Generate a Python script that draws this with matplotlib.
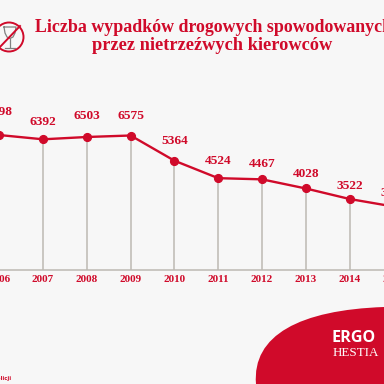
import matplotlib
matplotlib.use("Agg")
import matplotlib.pyplot as plt
from matplotlib.patches import Circle, PathPatch
from matplotlib.path import Path

years = [2006, 2007, 2008, 2009, 2010, 2011, 2012, 2013, 2014, 2015]
values = [6598, 6392, 6503, 6575, 5364, 4524, 4467, 4028, 3522, 3160]
year_labels = ["2006", "2007", "2008", "2009", "2010", "2011", "2012", "2013", "2014", "2015"]
title_lines = ["Liczba wypadków drogowych spowodowanych", "przez nietrzeźwych kierowców"]

# label gap above each point, in px
label_gap = [23, 17, 21, 19.5, 19.7, 17, 15, 14.5, 13, 13.5]

RED = "#d00a2a"
BG = "#f7f7f7"
GREY = "#bdb9b3"
GLASS = "#808080"
SERIF = "Liberation Serif"

fig = plt.figure(figsize=(3.84, 3.84), dpi=100, facecolor=BG)

# pixel overlay for title, icon and logo
bg = fig.add_axes([0, 0, 1, 1])
bg.set_xlim(0, 384)
bg.set_ylim(384, 0)
bg.axis("off")

# chart axes: year 2007 sits at x=43 px, one year is 43.8 px
ax = fig.add_axes([0, 0, 1, 1], facecolor="none")
ax.set_xlim(2007 - 43 / 43.8, 2007 + (384 - 43) / 43.8)
# 6575 -> 135.5 px, 3522 -> 199 px
per_px = (6575 - 3522) / 63.5
ymin = 6575 - (384 - 135.5) * per_px
ax.set_ylim(ymin, 6575 + 135.5 * per_px)
ax.axis("off")

base = ymin + (384 - 270) * per_px
ax.axhline(base, color=GREY, lw=1.1, zorder=1)
ax.vlines(years, base, values, color=GREY, lw=1.1, zorder=1)
ax.plot(years, values, color=RED, lw=1.7, marker="o", ms=5.6, zorder=3)

for x, v, gap in zip(years, values, label_gap):
    ax.annotate(str(v), (x, v), xytext=(0, gap * 0.72), textcoords="offset points", ha="center", va="center",
                color=RED, fontsize=9.6, fontweight="bold", family=SERIF, annotation_clip=False)
for x, lab in zip(years, year_labels):
    ax.text(x, ymin + (384 - 280) * per_px, lab, ha="center", va="center",
            color=RED, fontsize=8, fontweight="bold", family=SERIF)

bg.text(35, 28, title_lines[0], ha="left", va="center", color=RED, fontsize=12.9, fontweight="bold", family=SERIF)
bg.text(212, 46, title_lines[1], ha="center", va="center", color=RED, fontsize=13.2, fontweight="bold", family=SERIF)

# no-alcohol icon
bg.plot([4, 16, 15, 13, 10, 7, 5, 4], [27, 27, 33, 37, 38.5, 37, 33, 27], color=GLASS, lw=0.9)
bg.plot([10, 10], [38.5, 47], color=GLASS, lw=0.9)
bg.plot([5, 15], [47.5, 47.5], color=GLASS, lw=0.9)
bg.add_patch(Circle((9, 37), 14.5, fc="none", ec=RED, lw=1.4))
bg.plot([-1, 20], [48, 26], color=RED, lw=1.4)

# red swoosh with logo
swoosh = Path([(256, 384), (252, 335), (300, 310), (384, 307), (384, 384), (256, 384)],
              [Path.MOVETO, Path.CURVE4, Path.CURVE4, Path.CURVE4, Path.LINETO, Path.CLOSEPOLY])
bg.add_patch(PathPatch(swoosh, fc=RED, ec="none"))
bg.text(354, 338, "ERGO", ha="center", va="center", color="white", fontsize=11.6, fontweight="bold", family="Open Sans")
bg.text(355.5, 352.5, "HESTIA", ha="center", va="center", color="white", fontsize=9.4, family=SERIF)

bg.text(12, 378.5, "Policji", ha="right", va="center", color=RED, fontsize=3.8, fontweight="bold")

fig.savefig("out.png", dpi=100, facecolor=BG)
